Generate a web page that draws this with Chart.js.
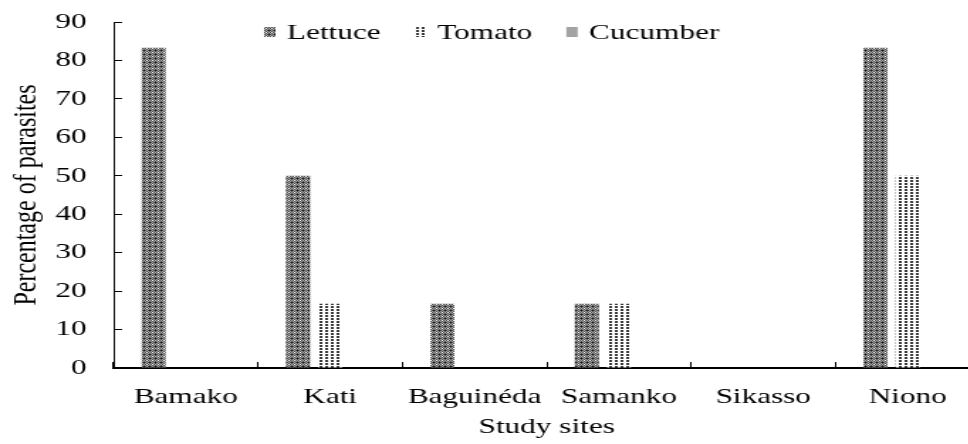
<!DOCTYPE html>
<html>
<head>
<meta charset="utf-8">
<script src="https://cdn.jsdelivr.net/npm/chart.js@4"></script>
<style>
  html, body { margin: 0; padding: 0; background: #fff; overflow: hidden; }
  #wrap { width: 690px; height: 444px; transform: scaleX(1.42); transform-origin: 0 0; }
</style>
</head>
<body>
<div id="wrap"><canvas id="siteChart" width="690" height="444"></canvas></div>
<script>
const sites = ["Bamako", "Kati", "Baguinéda", "Samanko", "Sikasso", "Niono"];
const lettuce = [83.3, 50, 16.7, 16.7, 0, 83.3];
const tomato = [0, 16.7, 0, 16.7, 0, 50];
const cucumber = [0, 0, 0, 0, 0, 0];
const yMin = 0, yMax = 90, yStep = 10;

const FONT = '"Liberation Serif", "Times New Roman", serif';

function el(id) {
  return document.getElementById(id);
}

// small tiled fills for the hatched bars
function makePattern(w, h, paint) {
  const c = document.createElement("canvas");
  c.width = w; c.height = h;
  const g = c.getContext("2d");
  paint(g);
  return g.createPattern(c, "repeat");
}

const lettuceFill = makePattern(4, 4, g => {
  g.fillStyle = "#a6a6a6";
  g.fillRect(0, 0, 4, 4);
  g.fillStyle = "#4d4d4d";
  g.fillRect(0, 0, 1, 1); g.fillRect(2, 0, 1, 1);
  g.fillRect(1, 1, 1, 1); g.fillRect(3, 1, 1, 1);
  g.fillRect(0, 2, 1, 1); g.fillRect(2, 2, 1, 1);
  g.fillRect(1, 3, 1, 1); g.fillRect(3, 3, 1, 1);
  g.fillStyle = "#111";
  g.fillRect(1, 2, 1, 1);
  g.fillStyle = "#fff";
  g.fillRect(3, 0, 1, 1);
});

const tomatoFill = makePattern(4, 3, g => {
  g.fillStyle = "#fff";
  g.fillRect(0, 0, 4, 3);
  g.fillStyle = "#3a3a3a";
  g.fillRect(1, 0, 2, 2);
});

const cucumberFill = "#a3a3a3";

// legend sits inside the plot, left of centre
const legendInside = {
  id: "legendInside",
  afterDraw(chart) {
    const ctx = chart.ctx;
    ctx.save();
    ctx.font = "22px " + FONT;
    ctx.textBaseline = "middle";
    let x = 186;
    const y = 32;
    chart.data.datasets.forEach(ds => {
      ctx.fillStyle = ds.backgroundColor;
      ctx.fillRect(x, y - 5, 8, 10);
      x += 8 + 8;
      ctx.fillStyle = "#000";
      ctx.fillText(ds.label, x, y + 1);
      x += ctx.measureText(ds.label).width + 24;
    });
    ctx.restore();
  }
};

window.addEventListener("load", () => {
  new Chart(el("siteChart"), {
    type: "bar",
    data: {
      labels: sites,
      datasets: [
        { label: "Lettuce", data: lettuce, backgroundColor: lettuceFill },
        { label: "Tomato", data: tomato, backgroundColor: tomatoFill },
        { label: "Cucumber", data: cucumber, backgroundColor: cucumberFill }
      ]
    },
    options: {
      responsive: false,
      maintainAspectRatio: false,
      animation: false,
      devicePixelRatio: 1,
      categoryPercentage: 0.667,
      barPercentage: 0.75,
      layout: { padding: 0 },
      plugins: { legend: { display: false }, tooltip: { enabled: false } },
      scales: {
        x: {
          grid: { display: true, drawOnChartArea: false, drawTicks: true, tickLength: -6, color: "#000", offset: true },
          border: { display: true, color: "#000", width: 2 },
          ticks: { color: "#000", font: { family: FONT, size: 22 }, padding: 22, maxRotation: 0, autoSkip: false },
          title: { display: true, text: "Study sites", color: "#000", font: { family: FONT, size: 22 }, padding: { top: 0, bottom: 4 } },
          afterFit(s) { s.height = 76; }
        },
        y: {
          min: yMin,
          max: yMax,
          grid: { display: true, drawOnChartArea: false, drawTicks: true, tickLength: -6, color: "#000" },
          border: { display: true, color: "#000", width: 1 },
          ticks: { stepSize: yStep, color: "#000", font: { family: FONT, size: 22 }, padding: 25 },
          title: { display: true, text: "Percentage of parasites", color: "#000", font: { family: FONT, size: 24 }, padding: { top: 4, bottom: 0 } },
          afterFit(s) {
            s.width = 80;
            s.paddingTop = 22;
            s.paddingBottom = 0;
          }
        }
      }
    },
    plugins: [legendInside]
  });
});
</script>
</body>
</html>
